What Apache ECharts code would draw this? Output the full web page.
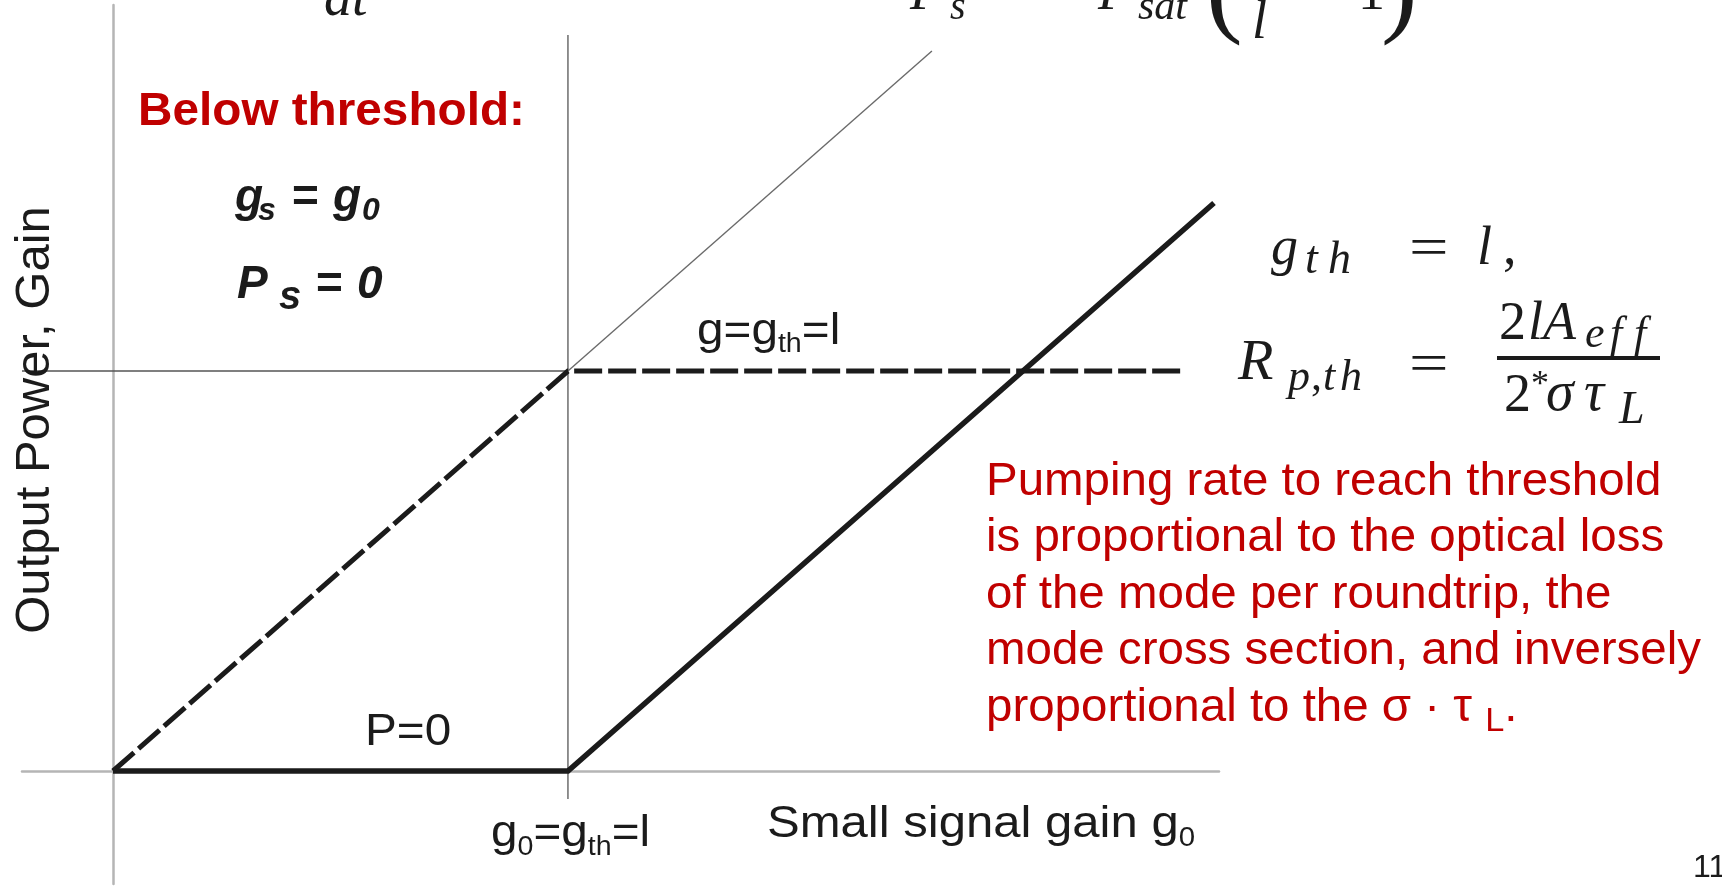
<!DOCTYPE html>
<html>
<head>
<meta charset="utf-8">
<script src="https://cdn.jsdelivr.net/npm/echarts@6/dist/echarts.min.js"></script>
<style>
  html, body { margin: 0; padding: 0; background: #ffffff; }
  #chart { width: 1722px; height: 886px; }
</style>
</head>
<body>
<div id="chart"></div>
<script>
// Small-signal gain g0 on the horizontal axis, in units of the loss l (g_th = l = 1)
const threshold = 1;

// Saturated gain: follows g0 below threshold, clamped at g_th above it
const gainX = [0, 1, 2.35];
const gainY = [0, 1, 1];

// Output power: zero below threshold, rising linearly above it
const powerX = [0, 1, 2.42];
const powerY = [0, 0, 1.42];

// Unsaturated gain continuing past threshold
const freeGainX = [1, 1.8];
const freeGainY = [1, 1.8];

// Threshold guide lines
const guideVertY = [-0.07, 1.84];
const guideHorzX = [-0.2, 1];

// Axis extents
const xRange = [-0.2, 2.431];
const yRange = [-0.2825, 1.915];

const zip = (xs, ys) => xs.map((x, i) => [x, ys[i]]);

const SANS = "'Liberation Sans', Arial, sans-serif";
const SERIF = "'Liberation Serif', 'Times New Roman', serif";
const INK = '#1b1b1b';
const RED = '#c00000';

const measureCtx = document.createElement('canvas').getContext('2d');
function fontOf(size, o) {
  return (o.italic ? 'italic ' : '') + (o.bold ? 'bold ' : '') + size + 'px ' + (o.family || SANS);
}
function measure(t, font) { measureCtx.font = font; return measureCtx.measureText(t).width; }

// Text placed by its left edge and alphabetic baseline
function label(t, x, base, size, o) {
  o = o || {};
  const font = fontOf(size, o);
  return {
    type: 'text', x: x, y: base - 0.345 * size, scaleX: o.sx || 1, silent: true, z: 10,
    style: {
      text: t, x: 0, y: 0, font: font, fill: o.color || INK,
      align: 'left', verticalAlign: 'middle', textAlign: 'left', textVerticalAlign: 'middle'
    }
  };
}
// A run of pieces (text, size, baseline shift, extra options) laid out left to right
function chain(x, base, pieces, o) {
  const out = [];
  let cx = x;
  pieces.forEach(function (p) {
    const oo = Object.assign({}, o || {}, p[3] || {});
    out.push(label(p[0], cx, base + p[2], p[1], oo));
    cx += measure(p[0], fontOf(p[1], oo)) * (oo.sx || 1) + (oo.kern || 0);
  });
  return out;
}

const texts = [];

// Slide notes on the left
texts.push(label('Below threshold:', 138, 128, 47, { bold: true, color: RED, sx: 1.015 }));
texts.push(label('g', 235, 214, 46, { bold: true, italic: true }));
texts.push(label('s', 258, 222, 32, { bold: true, italic: true }));
texts.push(label('=', 292, 214, 46, { bold: true }));
texts.push(label('g', 333, 214, 46, { bold: true, italic: true }));
texts.push(label('0', 362, 222, 32, { bold: true, italic: true }));
texts.push(label('P', 237, 301, 46, { bold: true, italic: true }));
texts.push(label('s', 279, 312, 40, { bold: true, italic: true }));
texts.push(label('=', 316, 301, 46, { bold: true }));
texts.push(label('0', 357, 301, 46, { bold: true, italic: true }));

// Axis title
texts.push({
  type: 'text', x: 35, y: 420, rotation: Math.PI / 2, silent: true, z: 10,
  style: { text: 'Output Power, Gain', font: fontOf(49, {}), fill: INK,
    align: 'center', verticalAlign: 'middle', textAlign: 'center', textVerticalAlign: 'middle' }
});

// Labels inside the figure
const FIG = { sx: 1.06 };
texts.push.apply(texts, chain(697, 347, [['g=g', 45, 0], ['th', 27, 7], ['=l', 45, 0]], FIG));
texts.push(label('P=0', 365, 748, 45, FIG));
texts.push.apply(texts, chain(491, 849, [['g', 45, 0], ['0', 27, 8], ['=g', 45, 0], ['th', 27, 8], ['=l', 45, 0]], FIG));
texts.push.apply(texts, chain(767, 840, [['Small signal gain g', 45, 0], ['0', 27, 8]], { sx: 1.09 }));

// Threshold conditions
const MI = { family: SERIF, italic: true };
const MU = { family: SERIF };
const EQ = { family: SERIF, sx: 1.3 };
texts.push(label('g', 1271, 268, 54, MI));
texts.push(label('t', 1305, 277, 46, MI));
texts.push(label('h', 1328, 277, 46, MI));
texts.push(label('=', 1409, 269, 54, EQ));
texts.push(label('l', 1477, 268, 54, MI));
texts.push(label(',', 1503, 268, 54, MU));

texts.push(label('R', 1238, 384, 58, MI));
texts.push(label('p', 1288, 394, 44, MI));
texts.push(label(',', 1311, 394, 44, MU));
texts.push(label('t', 1323, 394, 44, MI));
texts.push(label('h', 1340, 394, 44, MI));
texts.push(label('=', 1409, 385, 54, EQ));

texts.push(label('2', 1499, 343, 54, MU));
texts.push(label('l', 1528, 343, 54, MI));
texts.push(label('A', 1543, 343, 54, MI));
texts.push(label('e', 1585, 351, 44, MI));
texts.push(label('f', 1610, 351, 44, MI));
texts.push(label('f', 1634, 351, 44, MI));
texts.push({ type: 'rect', silent: true, z: 10, shape: { x: 1497, y: 356, width: 163, height: 4 }, style: { fill: INK } });
texts.push(label('2', 1504, 415, 54, MU));
texts.push(label('*', 1531, 398, 36, MU));
texts.push(label('σ', 1546, 415, 56, MI));
texts.push(label('τ', 1584, 415, 56, MI));
texts.push(label('L', 1619, 427, 46, MI));

// Formulas running off the top edge
texts.push(label('dt', 324, 20, 56, MI));
texts.push(label('P', 910, 13, 54, MI));
texts.push(label('s', 950, 22, 40, MI));
texts.push(label('P', 1098, 13, 54, MI));
texts.push(label('sat', 1138, 22, 42, MI));
texts.push(label('(', 1206, 31, 110, MU));
texts.push(label('l', 1252, 42, 54, MI));
texts.push(label('1', 1358, 13, 54, MU));
texts.push(label(')', 1381, 31, 110, MU));

// Explanation
const notes = [
  'Pumping rate to reach threshold',
  'is proportional to the optical loss',
  'of the mode per roundtrip, the',
  'mode cross section, and inversely'
];
const NOTE = { color: RED, sx: 1.01 };
notes.forEach(function (t, i) { texts.push(label(t, 986, 498 + 56.5 * i, 47, NOTE)); });
texts.push.apply(texts, chain(986, 724, [['proportional to the σ · τ ', 47, 0], ['L', 34, 9], ['.', 47, 0]], NOTE));

// Page number
texts.push(label('11', 1693, 879, 32, {}));

const chart = echarts.init(document.getElementById('chart'), null, { renderer: 'canvas' });
chart.setOption({
  animation: false,
  backgroundColor: '#ffffff',
  grid: { left: 22, right: 503, top: 5, bottom: 2 },
  xAxis: {
    type: 'value', min: xRange[0], max: xRange[1],
    axisLine: { onZero: true, lineStyle: { color: '#b5b5b5', width: 2.5 } },
    axisTick: { show: false }, axisLabel: { show: false }, splitLine: { show: false }
  },
  yAxis: {
    type: 'value', min: yRange[0], max: yRange[1],
    axisLine: { onZero: true, lineStyle: { color: '#b5b5b5', width: 2.5 } },
    axisTick: { show: false }, axisLabel: { show: false }, splitLine: { show: false }
  },
  series: [
    {
      type: 'line', silent: true, symbol: 'none', z: 2,
      data: zip([threshold, threshold], guideVertY),
      lineStyle: { color: '#555555', width: 1.3 }
    },
    {
      type: 'line', silent: true, symbol: 'none', z: 2,
      data: zip(guideHorzX, [threshold, threshold]),
      lineStyle: { color: '#555555', width: 1.3 }
    },
    {
      type: 'line', silent: true, symbol: 'none', z: 3,
      data: zip(freeGainX, freeGainY),
      lineStyle: { color: '#6a6a6a', width: 1.4 }
    },
    {
      type: 'line', silent: true, symbol: 'none', z: 4,
      data: zip(gainX, gainY),
      lineStyle: { color: INK, width: 5, type: [28, 6], join: 'miter' }
    },
    {
      type: 'line', silent: true, symbol: 'none', z: 5,
      data: zip(powerX, powerY),
      lineStyle: { color: INK, width: 5.5, join: 'miter' }
    }
  ],
  graphic: { elements: texts }
});
</script>
</body>
</html>
